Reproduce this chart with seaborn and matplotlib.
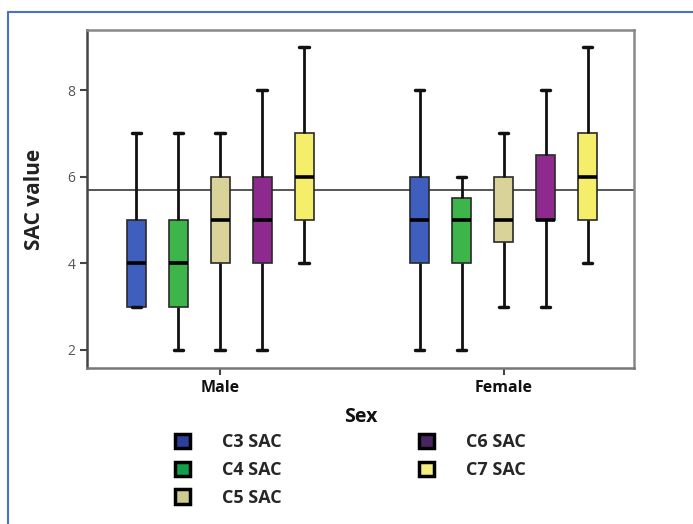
import numpy as np
import pandas as pd
import seaborn as sns
import matplotlib
matplotlib.use("Agg")
import matplotlib.pyplot as plt
from matplotlib.patches import Patch
from matplotlib.lines import Line2D

# ---- data (box summaries) ----
sexes = ["Male", "Female"]
levels = ["C3 SAC", "C4 SAC", "C5 SAC", "C6 SAC", "C7 SAC"]
# per level: [Male, Female]
mins = {"C3 SAC": [3, 2], "C4 SAC": [2, 2], "C5 SAC": [2, 3], "C6 SAC": [2, 3], "C7 SAC": [4, 4]}
q1s = {"C3 SAC": [3, 4], "C4 SAC": [3, 4], "C5 SAC": [4, 4.5], "C6 SAC": [4, 5], "C7 SAC": [5, 5]}
medians = {"C3 SAC": [4, 5], "C4 SAC": [4, 5], "C5 SAC": [5, 5], "C6 SAC": [5, 5], "C7 SAC": [6, 6]}
q3s = {"C3 SAC": [5, 6], "C4 SAC": [5, 5.5], "C5 SAC": [6, 6], "C6 SAC": [6, 6.5], "C7 SAC": [7, 7]}
maxs = {"C3 SAC": [7, 8], "C4 SAC": [7, 6], "C5 SAC": [7, 7], "C6 SAC": [8, 8], "C7 SAC": [9, 9]}
ref_line = 5.7
yticks = [2, 4, 6, 8]

box_colors = ["#3F5FBF", "#3DB54B", "#D9D39A", "#8E2A8E", "#F5EE6A"]
legend_colors = ["#2B3F9B", "#10A04A", "#CFCB8E", "#4A2560", "#F2EE80"]

rows = []
for lv in levels:
    for i, sx in enumerate(sexes):
        for v in (mins[lv][i], q1s[lv][i], medians[lv][i], q3s[lv][i], maxs[lv][i]):
            rows.append({"Sex": sx, "Level": lv, "SAC value": v})
df = pd.DataFrame(rows)

sns.set_style("white")
plt.rcParams["font.family"] = ["Open Sans", "DejaVu Sans"]

fig = plt.figure(figsize=(6.93, 5.24), dpi=100)
ax = fig.add_axes([87 / 693, 1 - 368 / 524, (634 - 87) / 693, (368 - 30) / 524])

sns.boxplot(
    data=df, x="Sex", y="SAC value", hue="Level", order=sexes, hue_order=levels,
    palette=box_colors, saturation=1, whis=(0, 100), width=0.74, gap=0.55,
    linecolor="#2a2a2a", linewidth=1.2, showfliers=False, legend=False, ax=ax,
    whiskerprops=dict(linewidth=2.0, color="#111111"),
    capprops=dict(linewidth=2.5, color="#111111"),
    medianprops=dict(linewidth=2.6, color="#000000"),
)

ax.axhline(ref_line, color="#555555", linewidth=1.4, zorder=0.5)

ax.set_xlim(-0.47, 1.46)
ax.set_ylim(1.58, 9.39)
ax.set_yticks(yticks)
ax.set_yticklabels([str(t) for t in yticks], fontsize=10)
ax.set_xticks([0, 1])
ax.set_xticklabels(sexes, fontsize=11.5, fontweight="bold")
ax.tick_params(axis="both", which="both", direction="out", length=5, width=1.5,
               colors="#444444", left=True, bottom=True)
for lab in ax.get_xticklabels():
    lab.set_color("#111111")
for lab in ax.get_yticklabels():
    lab.set_color("#555555")

for side, sp in ax.spines.items():
    sp.set_visible(True)
    sp.set_linewidth(1.8)
    sp.set_color("#888888")
ax.spines["left"].set_color("#444444")
ax.spines["bottom"].set_color("#777777")

ax.set_xlabel("Sex", fontsize=14, fontweight="bold", labelpad=8, color="#111111")
ax.set_ylabel("SAC value", fontsize=15, fontweight="bold", labelpad=16, color="#222222")

handles = [Patch(facecolor=c, edgecolor="black", linewidth=2.5, label=l)
           for c, l in zip(legend_colors, levels)]
fig.legend(handles=handles, loc="upper left", bbox_to_anchor=(166 / 693, 1 - 424 / 524),
           ncol=2, frameon=False, prop={"weight": "bold", "size": 13},
           handlelength=0.85, handleheight=0.85, handletextpad=1.75,
           columnspacing=7.6, labelspacing=0.55, borderpad=0)

# outer blue frame (top and left edges visible)
fig.add_artist(Line2D([8 / 693, 1.0], [1 - 12 / 524, 1 - 12 / 524], color="#4A72C4",
                      linewidth=1.5, transform=fig.transFigure))
fig.add_artist(Line2D([8 / 693, 8 / 693], [1 - 12 / 524, 0.0], color="#4A72C4",
                      linewidth=1.5, transform=fig.transFigure))

fig.savefig("out.png", dpi=100)
